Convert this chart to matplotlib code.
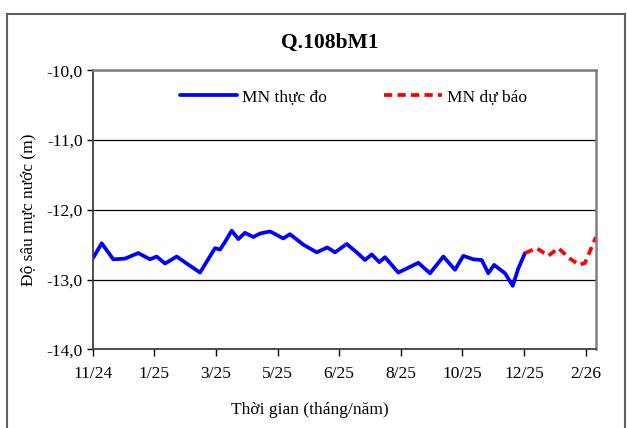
import matplotlib
matplotlib.use("Agg")
import matplotlib.pyplot as plt
from matplotlib.patches import Rectangle
from matplotlib.ticker import FuncFormatter
import numpy as np

plt.rcParams['font.family'] = ['Liberation Serif', 'DejaVu Serif']

tick_labels = ["11/24", "1/25", "3/25", "5/25", "6/25", "8/25", "10/25", "12/25", "2/26"]

obs_x = [0.0, 0.146, 0.334, 0.524, 0.740, 0.930, 1.039, 1.174, 1.364, 1.526, 1.742,
         1.985, 2.067, 2.148, 2.256, 2.364, 2.472, 2.607, 2.716, 2.878, 3.094, 3.203,
         3.419, 3.636, 3.808, 3.933, 4.123, 4.286, 4.420, 4.529, 4.653, 4.745, 4.961,
         5.286, 5.476, 5.692, 5.881, 6.016, 6.179, 6.315, 6.422, 6.515, 6.693, 6.818,
         6.909, 7.018]
obs_y = [-12.70, -12.48, -12.71, -12.70, -12.62, -12.71, -12.67, -12.77, -12.67, -12.77, -12.90,
         -12.55, -12.57, -12.46, -12.30, -12.42, -12.33, -12.39, -12.34, -12.31, -12.41, -12.35,
         -12.50, -12.61, -12.54, -12.61, -12.49, -12.61, -12.72, -12.64, -12.75, -12.68, -12.90,
         -12.76, -12.91, -12.67, -12.86, -12.66, -12.71, -12.72, -12.91, -12.79, -12.91, -13.09,
         -12.84, -12.62]

fc_x = [7.018, 7.208, 7.396, 7.558, 7.748, 7.899, 7.992, 8.17]
fc_y = [-12.62, -12.55, -12.66, -12.55, -12.70, -12.79, -12.76, -12.39]

fs = 12.5

fig = plt.figure(figsize=(6.27, 4.28), dpi=100)
ax = fig.add_axes([92.7/627, 1-349.3/428, (596-92.7)/627, (349.3-70.3)/428])

ax.plot(obs_x, obs_y, color='#0000FF', lw=2.7, label='MN thực đo', solid_joinstyle='round', solid_capstyle='round')
ax.plot(fc_x, fc_y, color='#FF0000', lw=2.7, ls=(0, (2.2, 1.4)), label='MN dự báo')

ax.set_xlim(0, 8.17)
ax.set_ylim(-14, -10)
ax.set_xticks(range(len(tick_labels)))
ax.set_xticklabels(tick_labels, fontsize=fs)
ax.set_yticks([-14, -13, -12, -11, -10])
ax.yaxis.set_major_formatter(FuncFormatter(lambda v, p: f"{v:.1f}".replace('.', ',')))
ax.tick_params(axis='y', labelsize=fs, direction='out', length=4, width=1, pad=3)
ax.tick_params(axis='x', direction='out', length=5, width=1, pad=7)
ax.yaxis.grid(True, color='black', lw=0.9)
ax.set_axisbelow(True)
for s in ['top', 'right']:
    ax.spines[s].set_color('#808080')
    ax.spines[s].set_linewidth(1.8)
for s in ['left', 'bottom']:
    ax.spines[s].set_color('#404040')
    ax.spines[s].set_linewidth(1.3)

ax.set_xlabel('Thời gian (tháng/năm)', fontsize=fs)
ax.xaxis.set_label_coords((310-92.7)/503.3, -(410-349.3)/279, transform=ax.transAxes)
ax.xaxis.label.set_va('center')
ax.set_ylabel('Độ sâu mực nước (m)', fontsize=fs)
ax.yaxis.set_label_coords(-(92.7-28)/503.3, 0.5, transform=ax.transAxes)
ax.yaxis.label.set_va('center')
fig.text(330/627, 1-43/428, 'Q.108bM1', fontsize=15.5, fontweight='bold', ha='center', va='center')

ax.legend(loc='upper center', bbox_to_anchor=(0.518, 0.99), ncol=2, frameon=False,
          fontsize=fs, handlelength=3.3, columnspacing=3.3, handletextpad=0.3)

fig.patches.append(Rectangle((7/627, -0.05), (625-7)/627, 1.05 - 14/428, transform=fig.transFigure,
                             fill=False, edgecolor='#606060', lw=1.5))

fig.savefig('out.png', dpi=100)
